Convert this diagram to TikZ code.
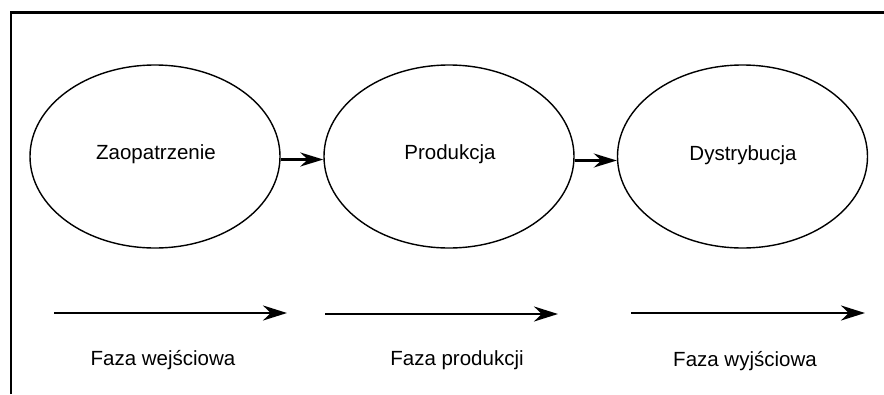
\documentclass[tikz,border=0pt]{standalone}
\usepackage{fontspec}
\setmainfont{Liberation Sans}
\usetikzlibrary{arrows.meta,shapes.geometric}
\begin{document}
\begin{tikzpicture}[x=1pt,y=-1pt,
  phase/.style={draw, line width=1.4pt, ellipse, minimum width=250pt, minimum height=183pt, inner sep=0pt},
  ptext/.style={font=\fontsize{20.5}{24}\selectfont},
  link/.style={line width=2.6pt, -{Stealth[length=23pt,width=14pt]}},
  span/.style={line width=2.8pt, -{Stealth[length=24pt,width=15pt]}},
  lbl/.style={font=\fontsize{20.5}{24}\selectfont}]
\useasboundingbox (0,0) rectangle (884,394);
\draw[line width=2.5pt] (11,394) -- (11,12.5) -- (884,12.5);
\node[phase] (z) at (155,156.5) {};
\node[phase] (p) at (449,156.5) {};
\node[phase] (d) at (742.5,156.5) {};
\node[ptext] (zt) at (156,154) {Zaopatrzenie};
\node[ptext] (pt) at (450,154) {Produkcja};
\node[ptext] (dt) at (743,155) {Dystrybucja};
\draw[link] (z.east) ++(0,3) coordinate (z1) -- (z1 -| p.west);
\draw[link] (p.east) ++(0,4) coordinate (p1) -- (p1 -| d.west);
\coordinate (a1s) at (54,313);
\coordinate (a1e) at (287,313);
\coordinate (a2s) at (325,314);
\coordinate (a2e) at (558,314);
\coordinate (a3s) at (631,313);
\coordinate (a3e) at (865,313);
\draw[span] (a1s) -- (a1e);
\draw[span] (a2s) -- (a2e);
\draw[span] (a3s) -- (a3e);
\node[lbl] (l1) at (163,360) {Faza wejściowa};
\node[lbl] (l2) at (457,360) {Faza produkcji};
\node[lbl] (l3) at (745,361) {Faza wyjściowa};
\end{tikzpicture}
\end{document}
